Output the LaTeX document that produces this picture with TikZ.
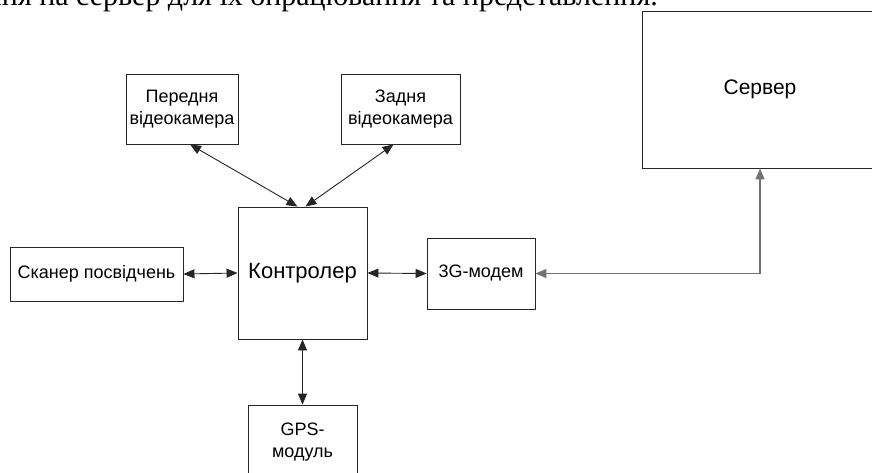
\documentclass[tikz,border=0pt]{standalone}
\usepackage{fontspec}
\setmainfont{Liberation Sans}
\newfontfamily\serifface{Liberation Serif}
\usetikzlibrary{arrows.meta,calc}
\begin{document}
\begin{tikzpicture}[x=1pt,y=-1pt,
  box/.style={draw=black!85, line width=0.9pt, inner sep=2pt, align=center,
    font=\fontsize{18}{22.5}\selectfont},
  conn/.style={draw=black!85, line width=0.9pt,
    {Triangle[length=11pt,width=9pt]}-{Triangle[length=11pt,width=9pt]}},
  srvconn/.style={draw=black!55, line width=1.4pt,
    {Triangle[length=11pt,width=9pt]}-{Triangle[length=11pt,width=9pt]}}]
\useasboundingbox (0,0) rectangle (872,473);
\clip (0,0) rectangle (872,473);
\fill[white] (0,0) rectangle (872,473);

\node[anchor=base east, font=\serifface\fontsize{30}{36}\selectfont, inner sep=0pt] (toptext) at (658,6)
  {ння на сервер для їх опрацювання та представлення.};

\node[box, minimum width=112pt, minimum height=70pt] (front) at (182,109) {Передня\\відеокамера};
\node[box, minimum width=119pt, minimum height=70pt] (rear) at (400.5,109) {Задня\\відеокамера};
\node[box, minimum width=129pt, minimum height=132pt, font=\fontsize{22}{26}\selectfont] (ctrl) at (302.5,273) {Контролер};
\node[box, minimum width=173pt, minimum height=54pt] (scan) at (96.5,274) {Сканер посвідчень};
\node[box, minimum width=108pt, minimum height=71pt] (modem) at (481,273.5) {3G-модем};
\node[box, minimum width=236pt, minimum height=157pt, font=\fontsize{21}{25}\selectfont] (server) at (760,89.5) {Сервер};
\node[box, minimum width=109pt, minimum height=74pt] (gps) at (302.5,442) {GPS-\\модуль};

\draw[conn] ($(front.south)+(8,0)$) -- ($(ctrl.north)+(-5,0)$);
\draw[conn] ($(rear.south)+(-7,0)$) -- ($(ctrl.north)+(3,0)$);
\draw[conn] (scan.east) -- (ctrl.west);
\draw[conn] (ctrl.east) -- (modem.west);
\draw[conn] (ctrl.south) -- (gps.north);
\coordinate (bend) at (server.south |- modem.east);
\draw[srvconn] (modem.east) -- (bend) -- (server.south);
\end{tikzpicture}
\end{document}
